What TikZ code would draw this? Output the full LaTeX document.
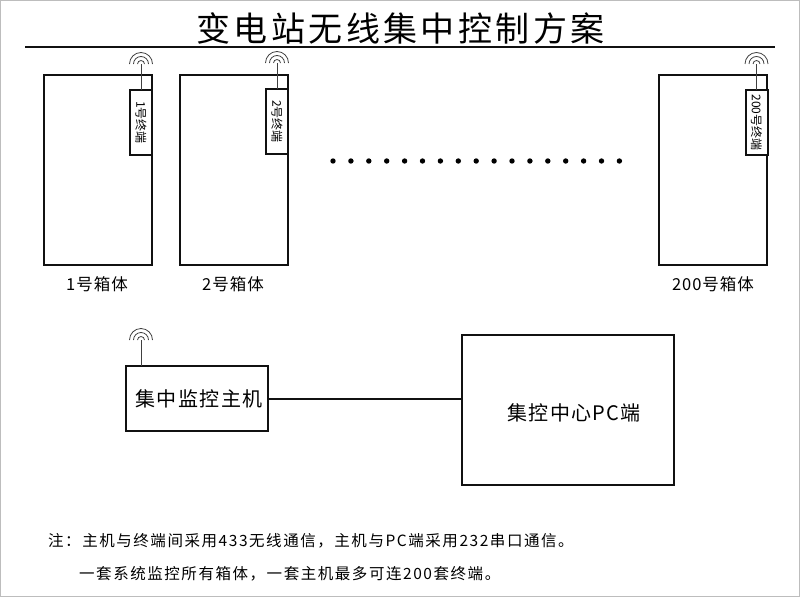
\documentclass[tikz,border=0pt]{standalone}
\usepackage{fontspec}
\setmainfont{Noto Sans CJK SC}
\newfontfamily\titlefont[LetterSpace=10]{Noto Sans CJK SC}
\newfontfamily\hubfont[LetterSpace=8]{Noto Sans CJK SC}
\newfontfamily\lblfont[LetterSpace=6]{Noto Sans CJK SC}
\newfontfamily\notefont[LetterSpace=10]{Noto Sans CJK SC}
\usepackage{tikz}
\usetikzlibrary{calc}
\definecolor{FrameGray}{HTML}{BDBDBD}
\definecolor{LineBlack}{HTML}{111111}
\tikzset{
  boxnode/.style={draw=LineBlack, line width=2pt, fill=white, inner sep=0pt, outer sep=0pt, anchor=north west},
  termnode/.style={boxnode, font=\fontsize{12}{12}\selectfont},
  lbltext/.style={font=\lblfont\fontsize{16.5}{16.5}\selectfont, inner sep=0pt},
  notetext/.style={font=\notefont\fontsize{15.5}{15.5}\selectfont, inner sep=0pt, anchor=west},
  antline/.style={line width=0.8pt, draw=black!75},
}
\begin{document}
\begin{tikzpicture}[x=1pt,y=-1pt]
  \useasboundingbox (0,0) rectangle (800,597);
  \draw[FrameGray, line width=1pt] (0.5,0.5) rectangle (799.5,596.5);
  \node[inner sep=0pt, font=\titlefont\fontsize{34}{34}\selectfont] (title) at (400.5,28) {变电站无线集中控制方案};
  \coordinate (ruleL) at (25,47);
  \coordinate (ruleR) at (775,47);
  \draw[LineBlack, line width=2pt] (ruleL) -- (ruleR);
  % cabinets: left, width, name, terminal left, terminal top, label centre
  \foreach \x/\w/\n/\tx/\ty/\lx in {43.5/108.5/1/130/90/97, 180/108/2/266/89/233, 659/108/200/745.5/90/713} {
    \node[boxnode, minimum width=\w pt, minimum height=190pt] (cab\n) at (\x,75) {};
    \node[lbltext] (cablbl\n) at (\lx,284) {\n 号箱体};
    \node[boxnode, minimum width=22pt, minimum height=65pt] (term\n) at (\tx,\ty) {};
    \node[termnode, draw=none, fill=none, anchor=center, rotate=-90] (termlbl\n) at (term\n.center) {\n 号终端};
    \coordinate (ant\n) at ($(term\n.north)+(0,-26)$);
    \draw[antline] (term\n.north) -- (ant\n);
    \foreach \r in {3.5,7.5,11.5}
      \draw[antline] ($(ant\n)+(\r,0)$) arc (0:-180:\r);
  }
  \foreach \i in {0,...,16}
    \fill[black] (333+\i*17.9,161) circle (2.7);
  \node[boxnode, minimum width=142pt, minimum height=65pt] (hub) at (126,366) {};
  \node[inner sep=0pt, font=\hubfont\fontsize{20}{20}\selectfont] (hublbl) at (199,399) {集中监控主机};
  \coordinate (anthub) at (141,340);
  \draw[antline] (141,366) -- (anthub);
  \foreach \r in {3.5,7.5,11.5}
    \draw[antline] ($(anthub)+(\r,0)$) arc (0:-180:\r);
  \node[boxnode, minimum width=212pt, minimum height=150pt] (pc) at (462,335) {};
  \node[inner sep=0pt, font=\lblfont\fontsize{20}{20}\selectfont] (pclbl) at (574,413) {集控中心PC端};
  \draw[LineBlack, line width=2pt] (hub.east) -- (pc.west |- hub.east);
  \node[notetext] (note1) at (48,541) {注：主机与终端间采用433无线通信，主机与PC端采用232串口通信。};
  \node[notetext] (note2) at (79,574) {一套系统监控所有箱体，一套主机最多可连200套终端。};
\end{tikzpicture}
\end{document}
